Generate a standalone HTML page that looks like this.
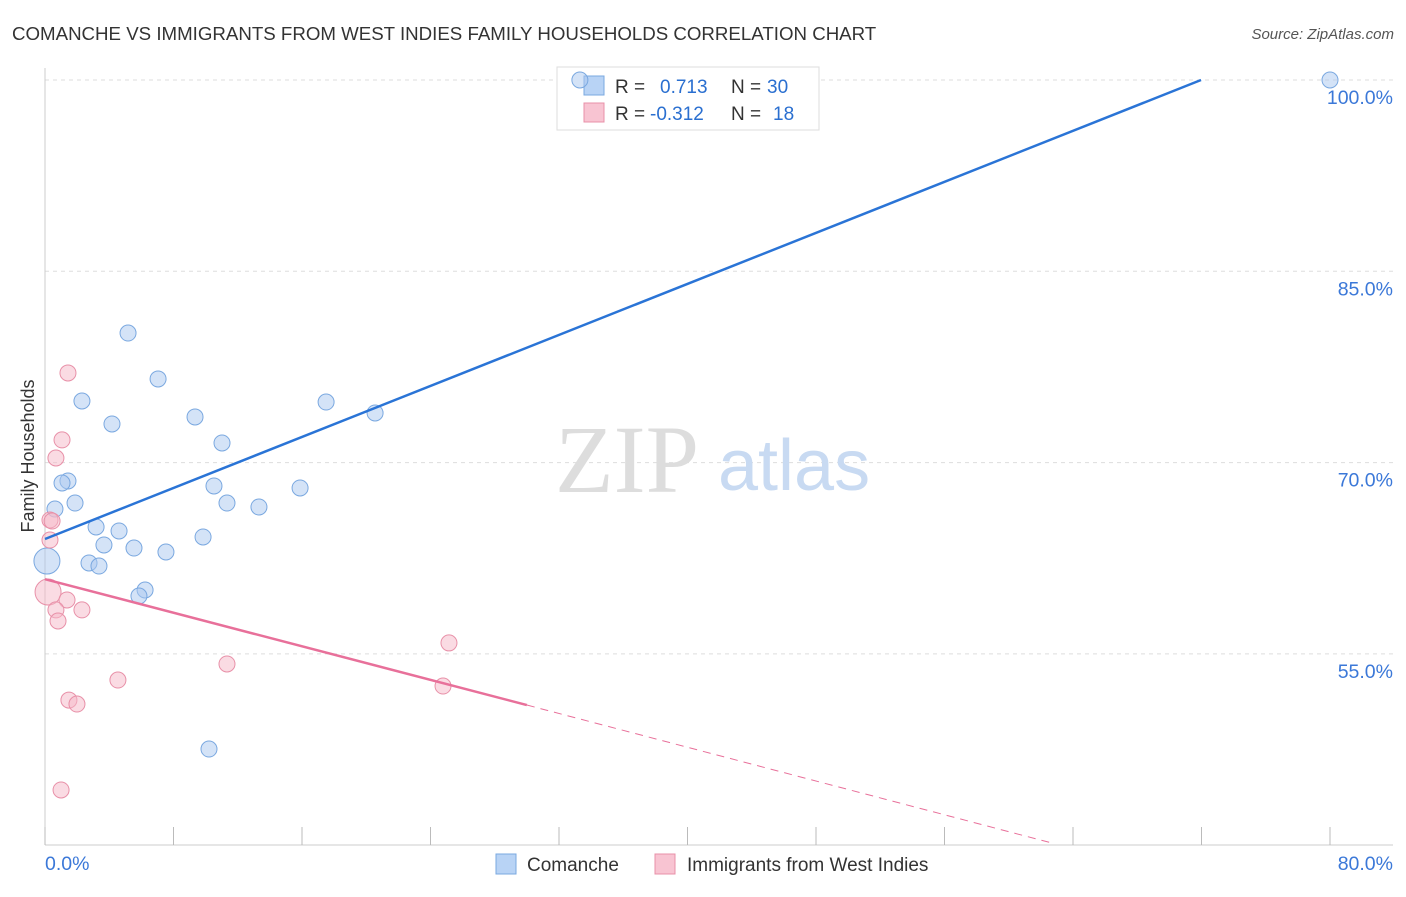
<!DOCTYPE html>
<html><head><meta charset="utf-8"><style>
body{margin:0;background:#fff;font-family:"Liberation Sans",sans-serif;}
svg text{font-family:"Liberation Sans",sans-serif;}
</style></head><body>
<svg id="chart" width="1406" height="892" xmlns="http://www.w3.org/2000/svg">
<text x="12" y="40" font-size="18.7" fill="#333">COMANCHE VS IMMIGRANTS FROM WEST INDIES FAMILY HOUSEHOLDS CORRELATION CHART</text>
<text x="1394" y="39" font-size="15" fill="#555" text-anchor="end" font-style="italic">Source: ZipAtlas.com</text>
<text x="0" y="0" transform="translate(34,456) rotate(-90)" font-size="18" fill="#333" text-anchor="middle">Family Households</text>
<g id="grid"></g>
<text x="555" y="492" font-size="96" fill="#ddd" style="font-family:'Liberation Serif',serif">ZIP</text>
<text x="718" y="490" font-size="72" fill="#c8daf2">atlas</text>
<g>
<rect x="557" y="67" width="262" height="63" fill="#fff" stroke="#ddd"/>
<rect x="584" y="76" width="20" height="19" fill="#b8d3f5" stroke="#7aa8e0"/>
<text x="615" y="93" font-size="19" fill="#333">R =</text><text x="660" y="93" font-size="19" fill="#2a6fd0">0.713</text>
<text x="731" y="93" font-size="19" fill="#333">N =</text><text x="767" y="93" font-size="19" fill="#2a6fd0">30</text>
<rect x="584" y="103" width="20" height="19" fill="#f8c4d2" stroke="#e890a8"/>
<text x="615" y="120" font-size="19" fill="#333">R =</text><text x="650" y="120" font-size="19" fill="#2a6fd0">-0.312</text>
<text x="731" y="120" font-size="19" fill="#333">N =</text><text x="773" y="120" font-size="19" fill="#2a6fd0">18</text>
</g>
<g id="marks"></g>
<g>
<rect x="496" y="854" width="20" height="20" fill="#b8d3f5" stroke="#7aa8e0"/>
<text x="527" y="871" font-size="19" fill="#333">Comanche</text>
<rect x="655" y="854" width="20" height="20" fill="#f8c4d2" stroke="#e890a8"/>
<text x="687" y="871" font-size="19" fill="#333">Immigrants from West Indies</text>
</g>
</svg>
<script>
const yTicks=[55,70,85,100];
const yTickLabels=["55.0%","70.0%","85.0%","100.0%"];
const xTicks=[0,8,16,24,32,40,48,56,64,72,80];
const comancheX=[33.3,80,5.17,7.04,2.30,4.17,9.34,11.02,17.5,20.55,1.43,1.06,1.87,0.62,10.52,11.33,13.32,15.88,3.18,4.61,3.67,5.54,7.53,9.84,2.74,3.36,6.23,5.85,10.21,0.12];
const comancheY=[100,100,80.16,76.56,74.83,73.03,73.58,71.54,74.75,73.89,68.56,68.40,66.83,66.36,68.17,66.83,66.52,68.01,64.95,64.64,63.54,63.30,62.99,64.17,62.13,61.89,60.01,59.54,47.54,62.28];
const comancheR=[8,8,8,8,8,8,8,8,8,8,8,8,8,8,8,8,8,8,8,8,8,8,8,8,8,8,8,8,8,13];
const westIndiesX=[1.43,1.06,0.68,0.31,0.44,0.31,0.19,1.37,0.68,2.30,0.81,25.15,11.33,4.54,24.78,1.49,1.99,1.0];
const westIndiesY=[77.03,71.78,70.36,65.50,65.42,63.93,59.85,59.23,58.45,58.45,57.58,55.86,54.21,52.95,52.48,51.38,51.07,44.33];
const westIndiesR=[8,8,8,8,8,8,13,8,8,8,8,8,8,8,8,8,8,8];
const blueTrend=[[0,64.01],[71.97,100]];
const pinkTrendSolid=[[0,60.86],[30.0,50.99]];
const pinkTrendDash=[[30.0,50.99],[62.6,40.2]];
const NS='http://www.w3.org/2000/svg';
const xs=v=>45+v/80*1285, ys=v=>80+(100-v)/15*191.3;
function mk(t,a,p){const e=document.createElementNS(NS,t);for(const k in a)e.setAttribute(k,a[k]);p.appendChild(e);return e;}
const g=document.getElementById('grid'), m=document.getElementById('marks');
yTicks.forEach((t,i)=>{
 const l=mk('line',{x1:45,x2:1393,y1:ys(t),y2:ys(t),stroke:'#ddd','stroke-dasharray':'4,4'},g);
 
 
 const tx=mk('text',{x:1393,y:ys(t)+24,'font-size':19.5,fill:'#3b78d8','text-anchor':'end'},g);
 tx.textContent=yTickLabels[i];
 
 
});
const ax=mk('line',{x1:45,x2:45,y1:68,y2:845,stroke:'#ccc'},g);


const bx=mk('line',{x1:45,x2:1393,y1:845,y2:845,stroke:'#ccc'},g);


xTicks.forEach(t=>{const l=mk('line',{x1:xs(t),x2:xs(t),y1:827,y2:845,stroke:'#bbb'},g);
 
 });
const x0=mk('text',{x:45,y:870,'font-size':19.5,fill:'#3b78d8'},g);x0.textContent='0.0%';


const x1=mk('text',{x:1393,y:870,'font-size':19.5,fill:'#3b78d8','text-anchor':'end'},g);x1.textContent='80.0%';


comancheX.forEach((v,i)=>{const c=mk('circle',{cx:xs(v),cy:ys(comancheY[i]),r:comancheR[i],fill:'rgba(169,200,240,0.5)',stroke:'#7aa8e0','stroke-width':1},m);
 
 });
westIndiesX.forEach((v,i)=>{const c=mk('circle',{cx:xs(v),cy:ys(westIndiesY[i]),r:westIndiesR[i],fill:'rgba(245,184,200,0.5)',stroke:'#e890a8','stroke-width':1},m);
 
 });
const bl=mk('line',{x1:xs(blueTrend[0][0]),y1:ys(blueTrend[0][1]),x2:xs(blueTrend[1][0]),y2:ys(blueTrend[1][1]),stroke:'#2a74d6','stroke-width':2.5},m);


const pl=mk('line',{x1:xs(pinkTrendSolid[0][0]),y1:ys(pinkTrendSolid[0][1]),x2:xs(pinkTrendSolid[1][0]),y2:ys(pinkTrendSolid[1][1]),stroke:'#e8709a','stroke-width':2.5},m);


const pd=mk('line',{x1:xs(pinkTrendDash[0][0]),y1:ys(pinkTrendDash[0][1]),x2:xs(pinkTrendDash[1][0]),y2:ys(pinkTrendDash[1][1]),stroke:'#e8709a','stroke-width':1,'stroke-dasharray':'8,6'},m);


</script>
</body></html>
